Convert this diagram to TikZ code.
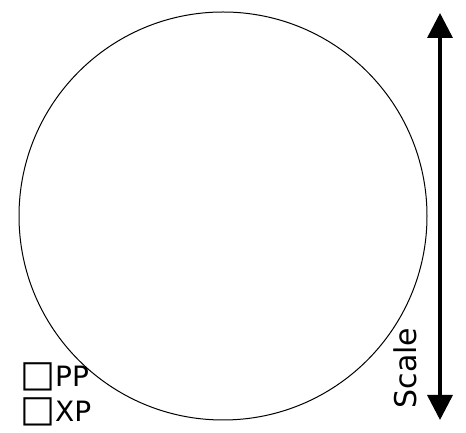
\documentclass[tikz,border=0pt]{standalone}
\usepackage{fontspec}
\setmainfont{DejaVu Sans}
\usetikzlibrary{arrows.meta}
\newcommand{\legendbox}{{\fontsize{37}{37}\selectfont □}}
\begin{document}
\begin{tikzpicture}[x=1pt, y=1pt]
        \tikzstyle{legend}=[anchor=base west, inner sep=0pt, font=\fontsize{28}{30}\selectfont];
        \tikzstyle{scalearrow}=[line width=3.5pt, {Triangle[width=25pt,length=25pt]}-{Triangle[width=25pt,length=25pt]}];

        \useasboundingbox (0,0) rectangle (466,433);
        \node[draw, circle, line width=1pt, minimum size=408pt, inner sep=0pt] (globe) at (223,217) {};

        \coordinate (top) at (440,420);
        \coordinate (bottom) at (440,13);
        \draw[scalearrow] (bottom) -- (top);
        \node[rotate=90, anchor=base, inner sep=0pt, font=\fontsize{30}{34}\selectfont] (scale) at (416,65) {Scale};

        \node[legend] (pp) at (20,46) {\legendbox PP};
        \node[legend] (xp) at (20,11) {\legendbox XP};
\end{tikzpicture}
\end{document}
